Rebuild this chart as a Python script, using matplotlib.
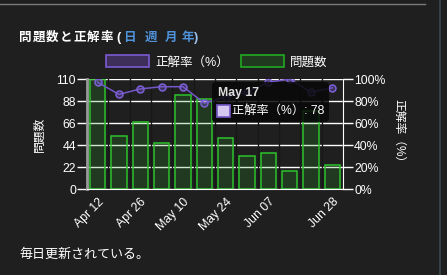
import numpy as np
import matplotlib.pyplot as plt
from matplotlib.patches import Patch, FancyBboxPatch, Rectangle
from matplotlib.lines import Line2D

plt.rcParams['font.family'] = ['Liberation Sans', 'Noto Sans CJK JP']

# data (weekly)
weeks = ['Apr 12', 'Apr 19', 'Apr 26', 'May 03', 'May 10', 'May 17',
         'May 24', 'May 31', 'Jun 07', 'Jun 14', 'Jun 21', 'Jun 28']
counts = [110, 53, 67, 46, 94, 90, 51, 33, 36, 18, 78, 24]
rates = [97, 86, 91, 93, 93, 78, 84, 88, 97, 100, 88, 92]
shown_ticks = ['Apr 12', 'Apr 26', 'May 10', 'May 24', 'Jun 07', 'Jun 28']
left_ticks = [0, 22, 44, 66, 88, 110]
right_ticks = [0, 20, 40, 60, 80, 100]
title = '問題数と正解率'
periods = ['日', '週', '月', '年']

bg = '#1f1f1f'
purple = '#7458c8'
green = '#2cc22c'
W, H = 447, 275

fig = plt.figure(figsize=(W / 100, H / 100), dpi=100, facecolor=bg)

def fx(px):
    return px / W

def fy(py):
    return 1 - py / H

ax = fig.add_axes([fx(87), fy(189), fx(343) - fx(87), fy(79) - fy(189)])
ax.set_facecolor(bg)
ax.set_axisbelow(True)

x = np.arange(len(weeks))
ax.bar(x, counts, width=0.72, color=(0.16, 0.6, 0.16, 0.22),
       edgecolor=green, linewidth=1.1, zorder=2)
ax.set_xlim(-0.5, len(weeks) - 0.5)
ax.set_ylim(0, 110)
ax.set_yticks(left_ticks)
ax.set_yticklabels([str(v) for v in left_ticks], color='white', fontsize=8.8)
ax.set_xticks([weeks.index(w) for w in shown_ticks])
ax.set_xticklabels(shown_ticks, rotation=45, ha='right', rotation_mode='anchor',
                   color='white', fontsize=8.8)
ax.tick_params(axis='y', length=7, color='white', width=1, pad=1)
ax.tick_params(axis='x', length=0, pad=5)
ax.grid(axis='y', color='white', linewidth=1, zorder=1)
for b in np.arange(len(weeks) + 1) - 0.5:
    ax.axvline(b, color='#171717', linewidth=1, zorder=1)
ax.spines['left'].set_color('#9a9a9a')
ax.spines['left'].set_linewidth(2)
ax.spines['right'].set_color('white')
ax.spines['bottom'].set_color('white')
ax.spines['top'].set_visible(False)
ax.set_ylabel('問題数', color='white', fontsize=8.5, labelpad=8)

ax2 = ax.twinx()
ax2.plot(x, rates, color=purple, linewidth=1.1, marker='o', markersize=5,
         markerfacecolor=(0.45, 0.35, 0.8, 0.35), markeredgecolor='#7d60d8',
         markeredgewidth=1.1, zorder=3)
ax2.set_ylim(0, 100)
ax2.set_yticks(right_ticks)
ax2.set_yticklabels([f'{v}%' for v in right_ticks], color='white', fontsize=8.8)
ax2.tick_params(axis='y', length=7, color='white', width=1, pad=1)
for s in ax2.spines.values():
    s.set_visible(False)
ax2.set_ylabel('正解率（%）', color='white', fontsize=8.5, rotation=-90, labelpad=14)

# legend
handles = [Patch(facecolor='#3d2f5a', edgecolor='#7b5bd0', linewidth=1.2, label='正解率（%）'),
           Patch(facecolor='#1f3a1f', edgecolor='#22aa22', linewidth=1.2, label='問題数')]
fig.legend(handles=handles, loc='center', bbox_to_anchor=(fx(217), fy(62)), ncol=2,
           frameon=False, fontsize=9, labelcolor='white', handlelength=3.4,
           handleheight=1.1, handletextpad=0.5, columnspacing=1.0, borderpad=0)

# title (letter-spaced) and footer
ty = fy(38)
tstyle = dict(fontsize=9, fontweight='bold', va='center')
for i, ch in enumerate(title):
    fig.text(fx(19 + 13.6 * i), ty, ch, color='white', **tstyle)
fig.text(fx(116.5), ty, '(', color='white', **tstyle)
for px, p in zip([123.5, 144.5, 164.5, 181.5], periods):
    fig.text(fx(px), ty, p, color='#4f93dc', **tstyle)
fig.text(fx(194), ty, ')', color='#9fc4ee', **tstyle)
fig.text(fx(19), fy(255), '毎日更新されている。', color='white', fontsize=9.4, va='center')

# tooltip
tip = FancyBboxPatch((fx(212), fy(122)), fx(329) - fx(212), fy(82) - fy(122),
                     boxstyle='round,pad=0,rounding_size=0.012', transform=fig.transFigure,
                     facecolor=(0.03, 0.03, 0.03, 0.85), edgecolor='none', zorder=10)
fig.patches.append(tip)
fig.text(fx(218), fy(93), 'May 17', color='#dddddd', fontsize=8.8, fontweight='bold',
         va='center', zorder=11)
fig.patches.append(Rectangle((fx(217), fy(117)), fx(230) - fx(217), fy(105) - fy(117),
                             transform=fig.transFigure, facecolor='#d4c8ee',
                             edgecolor='#7458c8', linewidth=1.2, zorder=11))
fig.text(fx(232), fy(111), '正解率（%）: 78', color='white', fontsize=8.8,
         va='center', zorder=11)

# page decorations
fig.add_artist(Line2D([0, fx(425)], [fy(4), fy(4)], color='#7a7a7a', linewidth=1))
fig.add_artist(Line2D([fx(440), fx(440)], [0, 1], color='#3a4852', linewidth=1.2))

fig.savefig('out.png', dpi=100, facecolor=bg)
